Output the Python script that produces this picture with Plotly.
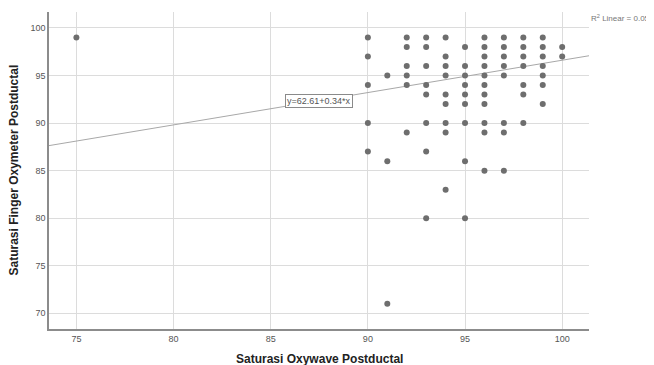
import plotly.graph_objects as go

# Data (x = Oxywave, y = Finger Oxymeter)
col_x = [75, 90, 91, 92, 93, 94, 95, 96, 97, 98, 99, 100]
col_y = [
    [99],
    [99, 97, 94, 90, 87],
    [95, 86, 71],
    [99, 98, 96, 95, 94, 89],
    [99, 98, 96, 94, 93, 90, 87, 80],
    [99, 97, 96, 95, 93, 92, 90, 89, 83],
    [98, 96, 95, 94, 93, 92, 90, 86, 80],
    [99, 98, 97, 96, 95, 94, 93, 92, 90, 89, 85],
    [99, 98, 97, 96, 95, 90, 89, 85],
    [99, 98, 97, 96, 94, 93, 90],
    [99, 98, 97, 96, 95, 94, 92],
    [98, 97],
]
intercept = 62.61
slope = 0.34
r2_label = "R<sup>2</sup> Linear = 0.052"
x_title = "Saturasi Oxywave Postductal"
y_title = "Saturasi Finger Oxymeter Postductal"
x_ticks = [75, 80, 85, 90, 95, 100]
y_ticks = [70, 75, 80, 85, 90, 95, 100]

xs, ys = [], []
for cx, cys in zip(col_x, col_y):
    for v in cys:
        xs.append(cx)
        ys.append(v)

x_range = [73.59, 101.38]
y_range = [68.35, 101.68]
FONT = "Liberation Sans, Arial"

fig = go.Figure()
fig.add_trace(go.Scatter(
    x=x_range, y=[intercept + slope * v for v in x_range],
    mode="lines", line=dict(color="#a8a8a8", width=1), hoverinfo="skip"))
fig.add_trace(go.Scatter(
    x=xs, y=ys, mode="markers",
    marker=dict(color="#6e6e6e", size=6, line=dict(width=0))))

lx = 87.49
fig.add_annotation(x=lx, y=intercept + slope * lx, text="y=62.61+0.34*x",
                   showarrow=False, bgcolor="white", bordercolor="#8a8a8a",
                   borderwidth=1, borderpad=1,
                   font=dict(family=FONT, size=9, color="#555555"))
fig.add_annotation(xref="paper", yref="paper", x=1.0, y=1.0, xanchor="left",
                   yanchor="middle", xshift=0, yshift=-6, text=r2_label, showarrow=False,
                   font=dict(family=FONT, size=8, color="#777777"))
# axis titles
fig.add_annotation(xref="paper", yref="paper", x=0.5, y=0, yanchor="middle",
                   yshift=-30, text="<b>%s</b>" % x_title, showarrow=False,
                   font=dict(family=FONT, size=12, color="#222222"))
fig.add_annotation(xref="paper", yref="paper", x=0, y=0.5, xanchor="center",
                   xshift=-36, textangle=-90, text="<b>%s</b>" % y_title, showarrow=False,
                   font=dict(family=FONT, size=12, color="#222222"))

axis_common = dict(showgrid=True, gridcolor="#dcdcdc", gridwidth=1,
                   showline=True, linecolor="#8c8c8c", linewidth=1.5,
                   zeroline=False, ticks="", automargin=False,
                   tickfont=dict(family=FONT, size=9, color="#555555"))
fig.update_xaxes(range=x_range, tickvals=x_ticks, **axis_common)
fig.update_yaxes(range=y_range, tickvals=y_ticks, **axis_common)
fig.update_layout(width=646, height=357, showlegend=False,
                  margin=dict(l=41, r=65, t=4, b=36),
                  plot_bgcolor="white", paper_bgcolor="white")
fig.write_html("out.html")
